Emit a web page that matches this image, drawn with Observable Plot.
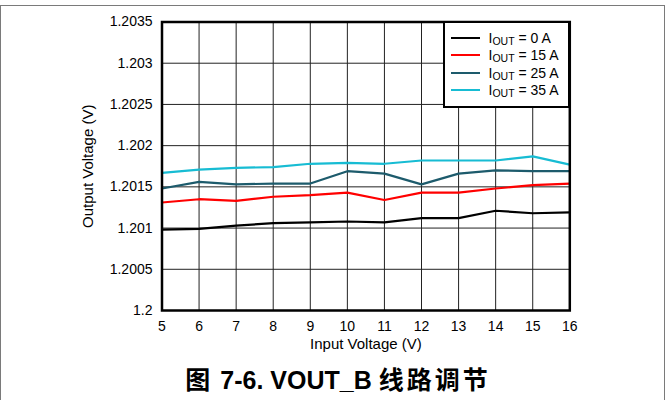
<!DOCTYPE html>
<html>
<head>
<meta charset="utf-8">
<script src="https://cdn.jsdelivr.net/npm/d3@7"></script>
<script src="https://cdn.jsdelivr.net/npm/@observablehq/plot@0.6"></script>
<style>
  body { margin: 0; background: #fff; }
  #wrap { position: relative; width: 668px; height: 400px; overflow: hidden; font-family: "Liberation Sans", Arial, sans-serif; }
  #border { position: absolute; left: 0; top: 5px; width: 665px; height: 420px; box-sizing: border-box; border: 1.5px solid #7a7a7a; }
  #chart { position: absolute; left: 0; top: 0; }
  #legend { position: absolute; left: 443px; top: 20.5px; width: 127px; height: 87px; box-sizing: border-box; border: 2.5px solid #000; background: #fff; padding: 7px 0 0 6px; }
  .row { height: 17.3px; display: flex; align-items: center; font-size: 14px; color: #000; white-space: nowrap; }
  .swatch { width: 29px; height: 2px; margin-right: 8.5px; flex: none; }
  .row sub { font-size: 10.5px; vertical-align: -2px; line-height: 0; }
  #caption { position: absolute; left: 4px; width: 668px; top: 363px; text-align: center; font-size: 25px; font-weight: bold; line-height: 30px; font-family: "Liberation Sans", Arial, "Noto Sans CJK SC", sans-serif; }
  #caption .cjk { font-family: "Noto Sans CJK SC", sans-serif; letter-spacing: 3px; }
</style>
</head>
<body>
<div id="wrap">
  <div id="border"></div>
  <div id="chart"></div>
  <div id="legend"></div>
  <div id="caption"><span class="cjk">图</span> 7-6. VOUT_B <span class="cjk">线路调节</span></div>
</div>
<script>
// ---- data ----
const inputVoltage = [5, 6, 7, 8, 9, 10, 11, 12, 13, 14, 15, 16];
const vout0A  = [1.20098, 1.20099, 1.20103, 1.20106, 1.20107, 1.20108, 1.20107, 1.20112, 1.20112, 1.20121, 1.20118, 1.20119];
const vout15A = [1.20131, 1.20135, 1.20133, 1.20138, 1.20140, 1.20143, 1.20134, 1.20143, 1.20143, 1.20148, 1.20152, 1.20154];
const vout25A = [1.20148, 1.20156, 1.20153, 1.20154, 1.20154, 1.20169, 1.20166, 1.20153, 1.20166, 1.20170, 1.20169, 1.20169];
const vout35A = [1.20167, 1.20171, 1.20173, 1.20174, 1.20178, 1.20179, 1.20178, 1.20182, 1.20182, 1.20182, 1.20187, 1.20177];
const seriesNames = ["0 A", "15 A", "25 A", "35 A"];
const seriesColors = ["#000000", "#ff0000", "#1d5b6c", "#17bcd3"];
const xTicks = [5, 6, 7, 8, 9, 10, 11, 12, 13, 14, 15, 16];
const yTicks = [1.2, 1.2005, 1.201, 1.2015, 1.202, 1.2025, 1.203, 1.2035];

const seriesValues = [vout0A, vout15A, vout25A, vout35A];
const rows = [];
seriesNames.forEach((name, s) => {
  inputVoltage.forEach((v, i) => rows.push({series: name, vin: v, vout: seriesValues[s][i]}));
});

const chart = Plot.plot({
  width: 668,
  height: 355,
  marginTop: 21.5,
  marginBottom: 45,
  marginLeft: 161.5,
  marginRight: 98.7,
  style: {fontFamily: "'Liberation Sans', Arial, sans-serif", fontSize: "14px", color: "#000", background: "transparent"},
  x: {domain: [5, 16]},
  y: {domain: [1.2, 1.2035]},
  color: {domain: seriesNames, range: seriesColors},
  marks: [
    Plot.ruleX(xTicks, {stroke: "#222", strokeWidth: 1}),
    Plot.ruleY(yTicks, {stroke: "#222", strokeWidth: 1}),
    Plot.line(rows, {x: "vin", y: "vout", z: "series", stroke: "series", strokeWidth: 2.2}),
    Plot.frame({stroke: "#000", strokeWidth: 2.5}),
    Plot.axisX({ticks: xTicks, tickSize: 0, tickPadding: 11, fontSize: 14, label: "Input Voltage (V)", labelAnchor: "center", labelArrow: "none", labelOffset: 38.5}),
    Plot.axisY({ticks: yTicks, tickSize: 0, tickPadding: 9.5, fontSize: 14, tickFormat: d => String(+d.toFixed(4)), label: "Output Voltage (V)", labelAnchor: "center", labelArrow: "none", labelOffset: 80})
  ]
});
chart.querySelectorAll("g[aria-label='x-axis label'] text, g[aria-label='y-axis label'] text").forEach(t => t.setAttribute("font-size", "15"));
document.getElementById("chart").appendChild(chart);

// legend
const legend = d3.select("#legend");
seriesNames.forEach((name, i) => {
  const row = legend.append("div").attr("class", "row");
  row.append("div").attr("class", "swatch").style("background", seriesColors[i]);
  row.append("span").html(`I<sub>OUT</sub> = ${name}`);
});
</script>
</body>
</html>
